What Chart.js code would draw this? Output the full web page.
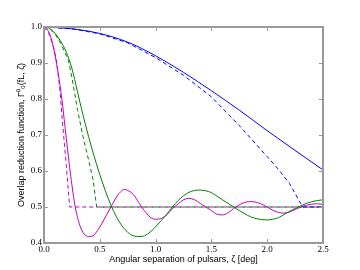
<!DOCTYPE html>
<html>
<head>
<meta charset="utf-8">
<script src="https://cdn.jsdelivr.net/npm/chart.js"></script>
<style>
  html, body { margin: 0; padding: 0; background: #fff; }
  #wrap { width: 360px; height: 270px; }
</style>
</head>
<body>
<div id="wrap"><canvas id="chart" width="360" height="270"></canvas></div>
<script>
// valores
var xTicks = [0.0, 0.5, 1.0, 1.5, 2.0, 2.5];
var yTicks = [0.4, 0.5, 0.6, 0.7, 0.8, 0.9, 1.0];

var zetaBlue = [0, 0.25, 0.5, 0.75, 1.0, 1.25, 1.5, 1.75, 2.0, 2.25, 2.5];
var gammaBlue = [1.0, 0.995, 0.982, 0.958, 0.92, 0.874, 0.823, 0.769, 0.712, 0.657, 0.603];

var zetaBlueDash = [0, 0.25, 0.5, 0.75, 1.0, 1.25, 1.5, 1.75, 2.0, 2.1, 2.2, 2.3, 2.32, 2.5];
var gammaBlueDash = [1.0, 0.995, 0.981, 0.956, 0.915, 0.866, 0.806, 0.726, 0.64, 0.605, 0.565, 0.51, 0.5, 0.5];

var zetaGreen = [0, 0.05, 0.1, 0.15, 0.2, 0.25, 0.3, 0.35, 0.4, 0.45, 0.5, 0.55, 0.6, 0.65, 0.7, 0.75, 0.8, 0.86,
    0.9, 0.95, 1.0, 1.05, 1.1, 1.15, 1.2, 1.25, 1.3, 1.35, 1.4, 1.45, 1.5, 1.55, 1.6, 1.65, 1.7, 1.75, 1.8,
    1.85, 1.9, 1.95, 2.0, 2.05, 2.1, 2.15, 2.2, 2.25, 2.3, 2.35, 2.4, 2.45, 2.5];
var gammaGreen = [1.0, 0.996, 0.982, 0.96, 0.93, 0.885, 0.82, 0.755, 0.695, 0.64, 0.59, 0.545, 0.505, 0.472, 0.447, 0.43, 0.42, 0.418,
    0.42, 0.43, 0.445, 0.462, 0.48, 0.5, 0.517, 0.531, 0.541, 0.546, 0.547, 0.545, 0.54, 0.53, 0.52, 0.51, 0.5, 0.49, 0.481,
    0.473, 0.468, 0.465, 0.464, 0.466, 0.47, 0.479, 0.488, 0.496, 0.503, 0.51, 0.515, 0.518, 0.52];

var zetaGreenDash = [0, 0.05, 0.1, 0.15, 0.218, 0.25, 0.3, 0.35, 0.4, 0.44, 0.472, 2.5];
var gammaGreenDash = [1.0, 0.995, 0.98, 0.955, 0.908, 0.86, 0.77, 0.695, 0.63, 0.575, 0.5, 0.5];

var zetaMagenta = [0, 0.04, 0.08, 0.12, 0.16, 0.2, 0.24, 0.28, 0.32, 0.36, 0.4, 0.44, 0.48, 0.52, 0.56, 0.6, 0.65, 0.7, 0.72,
    0.75, 0.8, 0.85, 0.875, 0.9, 0.95, 1.0, 1.05, 1.1, 1.15, 1.2, 1.25, 1.3, 1.35, 1.4, 1.45, 1.5, 1.55, 1.6, 1.65, 1.7,
    1.75, 1.8, 1.86, 1.9, 1.95, 2.0, 2.05, 2.1, 2.15, 2.2, 2.25, 2.3, 2.35, 2.4, 2.45, 2.5];
var gammaMagenta = [1.0, 0.988, 0.95, 0.885, 0.8, 0.69, 0.585, 0.5, 0.45, 0.425, 0.418, 0.42, 0.435, 0.455, 0.478, 0.5, 0.528, 0.546, 0.549,
    0.546, 0.535, 0.512, 0.5, 0.49, 0.472, 0.466, 0.468, 0.478, 0.495, 0.508, 0.52, 0.524, 0.52, 0.51, 0.5, 0.49, 0.48, 0.478, 0.484, 0.496,
    0.506, 0.513, 0.515, 0.513, 0.508, 0.5, 0.491, 0.485, 0.483, 0.486, 0.493, 0.5, 0.505, 0.508, 0.509, 0.507];

var zetaMagentaDash = [0, 0.04, 0.08, 0.11, 0.14, 0.17, 0.2, 0.23, 2.5];
var gammaMagentaDash = [1.0, 0.985, 0.95, 0.91, 0.835, 0.72, 0.615, 0.5, 0.5];

function puntos(xs, ys) {
    return xs.map(function (x, i) { return {x: x, y: ys[i]}; });
}

function serie(xs, ys, color, dashed) {
    return {
        data: puntos(xs, ys),
        borderColor: color,
        backgroundColor: color,
        borderWidth: 1,
        borderDash: dashed ? [4, 3] : [],
        pointRadius: 0,
        showLine: true,
        fill: false,
        tension: 0,
        cubicInterpolationMode: dashed ? 'default' : 'monotone'
    };
}

// marco gris y marcas hacia dentro, como en matplotlib
var marco = {
    id: 'marco',
    afterDraw: function (chart) {
        var ctx = chart.ctx;
        var a = chart.chartArea;
        var xs = chart.scales.x;
        var ys = chart.scales.y;
        ctx.save();
        ctx.strokeStyle = '#999999';
        ctx.lineWidth = 1;
        ctx.beginPath();
        xTicks.forEach(function (v) {
            var px = Math.round(xs.getPixelForValue(v)) + 0.5;
            ctx.moveTo(px, a.bottom); ctx.lineTo(px, a.bottom - 4);
            ctx.moveTo(px, a.top); ctx.lineTo(px, a.top + 4);
        });
        yTicks.forEach(function (v) {
            var py = Math.round(ys.getPixelForValue(v)) + 0.5;
            ctx.moveTo(a.left, py); ctx.lineTo(a.left + 4, py);
            ctx.moveTo(a.right, py); ctx.lineTo(a.right - 4, py);
        });
        ctx.stroke();
        ctx.lineWidth = 2;
        ctx.strokeRect(a.left, a.top, a.right - a.left, a.bottom - a.top);
        ctx.restore();
    }
};

var ctx = document.getElementById('chart').getContext('2d');
var grafico = new Chart(ctx, {
    type: 'scatter',
    data: {
        datasets: [
            serie(zetaBlue, gammaBlue, '#0000ff', false),
            serie(zetaBlueDash, gammaBlueDash, '#0000ff', true),
            serie(zetaGreen, gammaGreen, '#008000', false),
            serie(zetaGreenDash, gammaGreenDash, '#008000', true),
            serie(zetaMagenta, gammaMagenta, '#c000c0', false),
            serie(zetaMagentaDash, gammaMagentaDash, '#c000c0', true)
        ]
    },
    options: {
        responsive: false,
        animation: false,
        layout: { padding: { left: 0, right: 37, top: 27, bottom: 0 } },
        plugins: { legend: { display: false }, tooltip: { enabled: false } },
        scales: {
            x: {
                type: 'linear',
                min: 0, max: 2.5,
                afterBuildTicks: function (s) { s.ticks = xTicks.map(function (v) { return {value: v}; }); },
                afterFit: function (s) { s.height = 27; },
                grid: { display: false, drawTicks: false },
                border: { display: false },
                ticks: {
                    padding: 1,
                    color: '#000',
                    font: { family: 'Liberation Serif', size: 9 },
                    callback: function (v) { return v.toFixed(1); }
                },
                title: {
                    display: true,
                    text: 'Angular separation of pulsars, ζ [deg]',
                    color: '#000',
                    font: { family: 'Liberation Sans', size: 9 },
                    padding: { top: 0, bottom: 5 }
                }
            },
            y: {
                type: 'linear',
                min: 0.4, max: 1.0,
                afterBuildTicks: function (s) { s.ticks = yTicks.map(function (v) { return {value: v}; }); },
                afterFit: function (s) { s.width = 44; },
                grid: { display: false, drawTicks: false },
                border: { display: false },
                ticks: {
                    padding: 2,
                    color: '#000',
                    font: { family: 'Liberation Serif', size: 9 },
                    callback: function (v) { return v.toFixed(1); }
                },
                title: {
                    display: true,
                    text: 'Overlap reduction function, Γ⁰₀(fL, ζ)',
                    color: '#000',
                    font: { family: 'Liberation Sans', size: 9 },
                    padding: { top: 16, bottom: 0 }
                }
            }
        }
    },
    plugins: [marco]
});
</script>
</body>
</html>
